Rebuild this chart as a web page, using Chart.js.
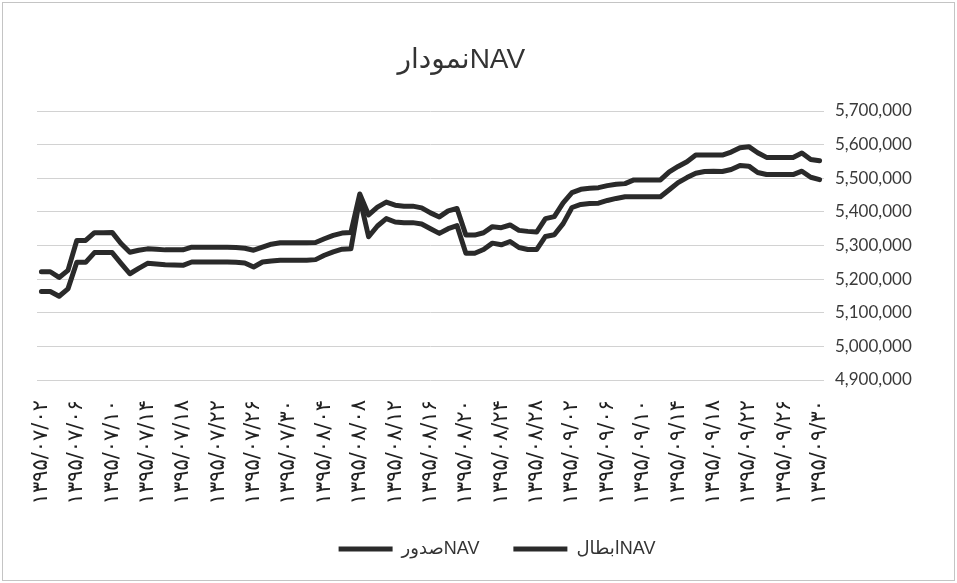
<!DOCTYPE html>
<html>
<head>
<meta charset="utf-8">
<script src="https://cdn.jsdelivr.net/npm/chart.js@4"></script>
<style>
  body { margin: 0; background: #fff; }
  #frame { position: absolute; left: 2px; top: 2px; width: 951px; height: 577px; border: 1px solid #c4c4c4; }
  #wrap { position: absolute; left: 0; top: 0; width: 957px; height: 583px; }
</style>
</head>
<body>
<div id="frame"></div>
<div id="wrap"><canvas id="mainChart" width="957" height="583"></canvas></div>
<script>
// Daily dates, 1395/07/02 .. 1395/09/30 (every 4th one is labelled)
const dates = [
  "۱۳۹۵/۰۷/۰۲","۱۳۹۵/۰۷/۰۳","۱۳۹۵/۰۷/۰۴","۱۳۹۵/۰۷/۰۵","۱۳۹۵/۰۷/۰۶","۱۳۹۵/۰۷/۰۷","۱۳۹۵/۰۷/۰۸","۱۳۹۵/۰۷/۰۹",
  "۱۳۹۵/۰۷/۱۰","۱۳۹۵/۰۷/۱۱","۱۳۹۵/۰۷/۱۲","۱۳۹۵/۰۷/۱۳","۱۳۹۵/۰۷/۱۴","۱۳۹۵/۰۷/۱۵","۱۳۹۵/۰۷/۱۶","۱۳۹۵/۰۷/۱۷",
  "۱۳۹۵/۰۷/۱۸","۱۳۹۵/۰۷/۱۹","۱۳۹۵/۰۷/۲۰","۱۳۹۵/۰۷/۲۱","۱۳۹۵/۰۷/۲۲","۱۳۹۵/۰۷/۲۳","۱۳۹۵/۰۷/۲۴","۱۳۹۵/۰۷/۲۵",
  "۱۳۹۵/۰۷/۲۶","۱۳۹۵/۰۷/۲۷","۱۳۹۵/۰۷/۲۸","۱۳۹۵/۰۷/۲۹","۱۳۹۵/۰۷/۳۰",
  "۱۳۹۵/۰۸/۰۱","۱۳۹۵/۰۸/۰۲","۱۳۹۵/۰۸/۰۳","۱۳۹۵/۰۸/۰۴","۱۳۹۵/۰۸/۰۵","۱۳۹۵/۰۸/۰۶","۱۳۹۵/۰۸/۰۷","۱۳۹۵/۰۸/۰۸",
  "۱۳۹۵/۰۸/۰۹","۱۳۹۵/۰۸/۱۰","۱۳۹۵/۰۸/۱۱","۱۳۹۵/۰۸/۱۲","۱۳۹۵/۰۸/۱۳","۱۳۹۵/۰۸/۱۴","۱۳۹۵/۰۸/۱۵","۱۳۹۵/۰۸/۱۶",
  "۱۳۹۵/۰۸/۱۷","۱۳۹۵/۰۸/۱۸","۱۳۹۵/۰۸/۱۹","۱۳۹۵/۰۸/۲۰","۱۳۹۵/۰۸/۲۱","۱۳۹۵/۰۸/۲۲","۱۳۹۵/۰۸/۲۳","۱۳۹۵/۰۸/۲۴",
  "۱۳۹۵/۰۸/۲۵","۱۳۹۵/۰۸/۲۶","۱۳۹۵/۰۸/۲۷","۱۳۹۵/۰۸/۲۸","۱۳۹۵/۰۸/۲۹","۱۳۹۵/۰۸/۳۰",
  "۱۳۹۵/۰۹/۰۱","۱۳۹۵/۰۹/۰۲","۱۳۹۵/۰۹/۰۳","۱۳۹۵/۰۹/۰۴","۱۳۹۵/۰۹/۰۵","۱۳۹۵/۰۹/۰۶","۱۳۹۵/۰۹/۰۷","۱۳۹۵/۰۹/۰۸",
  "۱۳۹۵/۰۹/۰۹","۱۳۹۵/۰۹/۱۰","۱۳۹۵/۰۹/۱۱","۱۳۹۵/۰۹/۱۲","۱۳۹۵/۰۹/۱۳","۱۳۹۵/۰۹/۱۴","۱۳۹۵/۰۹/۱۵","۱۳۹۵/۰۹/۱۶",
  "۱۳۹۵/۰۹/۱۷","۱۳۹۵/۰۹/۱۸","۱۳۹۵/۰۹/۱۹","۱۳۹۵/۰۹/۲۰","۱۳۹۵/۰۹/۲۱","۱۳۹۵/۰۹/۲۲","۱۳۹۵/۰۹/۲۳","۱۳۹۵/۰۹/۲۴",
  "۱۳۹۵/۰۹/۲۵","۱۳۹۵/۰۹/۲۶","۱۳۹۵/۰۹/۲۷","۱۳۹۵/۰۹/۲۸","۱۳۹۵/۰۹/۲۹","۱۳۹۵/۰۹/۳۰"
];

// NAV صدور (upper line)
const navSodur = [
  5222000, 5222000, 5205000, 5226000, 5315000, 5315000, 5338000, 5338000, 5339000, 5306000,
  5280000, 5286000, 5290000, 5289000, 5287000, 5287000, 5287000, 5295000, 5295000, 5295000,
  5295000, 5295000, 5294000, 5292000, 5286000, 5295000, 5304000, 5308000, 5308000, 5308000,
  5308000, 5309000, 5320000, 5330000, 5337000, 5339000, 5453000, 5391000, 5414000, 5429000,
  5420000, 5417000, 5417000, 5412000, 5397000, 5385000, 5403000, 5410000, 5331000, 5331000,
  5338000, 5356000, 5353000, 5361000, 5345000, 5342000, 5340000, 5380000, 5386000, 5427000,
  5457000, 5467000, 5470000, 5472000, 5478000, 5482000, 5484000, 5495000, 5495000, 5495000,
  5495000, 5519000, 5535000, 5549000, 5569000, 5569000, 5569000, 5569000, 5578000, 5591000,
  5594000, 5576000, 5562000, 5562000, 5562000, 5562000, 5575000, 5556000, 5552000
];

// NAV ابطال (lower line)
const navEbtal = [
  5163000, 5163000, 5149000, 5171000, 5250000, 5250000, 5279000, 5279000, 5279000, 5247000,
  5216000, 5232000, 5247000, 5245000, 5243000, 5242000, 5241000, 5251000, 5251000, 5251000,
  5251000, 5251000, 5250000, 5248000, 5236000, 5251000, 5254000, 5256000, 5256000, 5256000,
  5256000, 5258000, 5271000, 5281000, 5289000, 5290000, 5440000, 5326000, 5358000, 5380000,
  5370000, 5368000, 5368000, 5364000, 5350000, 5336000, 5350000, 5359000, 5277000, 5277000,
  5288000, 5307000, 5302000, 5312000, 5294000, 5288000, 5288000, 5327000, 5332000, 5365000,
  5413000, 5422000, 5425000, 5426000, 5434000, 5440000, 5445000, 5445000, 5445000, 5445000,
  5445000, 5466000, 5487000, 5502000, 5515000, 5520000, 5521000, 5520000, 5526000, 5538000,
  5536000, 5517000, 5511000, 5511000, 5511000, 5511000, 5521000, 5503000, 5496000
];

const yMin = 4900000;
const yMax = 5700000;
const yStep = 100000;

const titleText = "نمودارNAV";
const lineColor = "#2a2a2a";

// Title drawn a bit left of centre, like the original Excel chart
const titlePlugin = {
  id: "navTitle",
  afterDraw(chart) {
    const ctx = chart.ctx;
    ctx.save();
    ctx.font = "28px 'Liberation Sans', 'DejaVu Sans'";
    ctx.fillStyle = "#333";
    ctx.textAlign = "center";
    ctx.textBaseline = "middle";
    ctx.fillText(titleText, chart.width * 0.482, 60);
    ctx.restore();
  },
};

const configData = {
  labels: dates,
  datasets: [
    {
      label: "صدورNAV",
      data: navSodur,
      borderColor: lineColor,
      backgroundColor: lineColor,
      borderWidth: 5,
      pointRadius: 0,
      borderJoinStyle: "round",
      borderCapStyle: "round",
    },
    {
      label: "ابطالNAV",
      data: navEbtal,
      borderColor: lineColor,
      backgroundColor: lineColor,
      borderWidth: 5,
      pointRadius: 0,
      borderJoinStyle: "round",
      borderCapStyle: "round",
    },
  ],
};

let config = {
  type: "line",
  data: configData,
  plugins: [titlePlugin],
  options: {
    responsive: false,
    animation: false,
    layout: { padding: { left: 37, right: 0, top: 111, bottom: 15 } },
    plugins: {
      title: { display: false },
      legend: {
        position: "bottom",
        labels: {
          boxWidth: 54,
          boxHeight: 5,
          padding: 34,
          color: "#333",
          font: { family: "'Liberation Sans', 'DejaVu Sans'", size: 18 },
          generateLabels: (chart) =>
            Chart.defaults.plugins.legend.labels.generateLabels(chart).map((l) => ({ ...l, lineWidth: 0 })),
        },
      },
      tooltip: { enabled: false },
    },
    scales: {
      x: {
        offset: true,
        grid: { display: false },
        border: { display: false },
        ticks: {
          autoSkip: false,
          maxRotation: 90,
          minRotation: 90,
          padding: 12,
          color: "#222",
          font: { family: "'DejaVu Sans'", size: 21 },
          callback: (v, i) => (i % 4 === 0 ? dates[i] : ""),
        },
        afterFit: (scale) => { scale.height = 126; },
      },
      y: {
        position: "right",
        min: yMin,
        max: yMax,
        grid: { color: "#d2d2d2", drawTicks: false },
        border: { display: false },
        ticks: {
          stepSize: yStep,
          padding: 11,
          color: "#3a3a3a",
          font: { family: "'Lato'", size: 17 },
          callback: (v) => v.toLocaleString("en-US"),
        },
        afterFit: (scale) => { scale.width = 133; },
      },
    },
  },
};

let mainChart = new Chart(document.getElementById("mainChart"), config);
</script>
</body>
</html>
